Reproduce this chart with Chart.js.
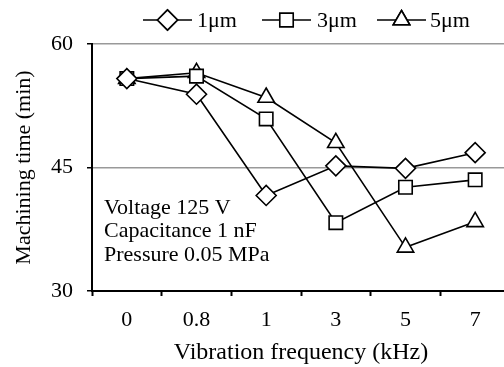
<!DOCTYPE html>
<html>
<head>
<meta charset="utf-8">
<script src="https://cdn.jsdelivr.net/npm/chart.js@4.4.1/dist/chart.umd.min.js"></script>
<style>
  html, body { margin: 0; padding: 0; background: #fff; overflow: hidden; }
  #wrap { width: 510px; height: 367px; }
</style>
</head>
<body>
<div id="wrap"><canvas id="chart-time"></canvas></div>
<script>
// data
const frequencies = ["0", "0.8", "1", "3", "5", "7"];
const seriesNames = ["1\u03bcm", "3\u03bcm", "5\u03bcm"];
const time1um = [55.8, 53.9, 41.6, 45.2, 44.9, 46.8];
const time3um = [55.8, 56.1, 50.9, 38.3, 42.6, 43.5];
const time5um = [55.8, 56.5, 53.5, 48.0, 35.3, 38.4];
const yTicks = [30, 45, 60];
const notes = ["Voltage 125 V", "Capacitance 1 nF", "Pressure 0.05 MPa"];

const serif = "'Liberation Serif', 'Times New Roman', serif";
const markers = ["rectRot", "rect", "triangle"];
const markerSize = [10, 9.5, 9.5];

function makeSet(label, data, i) {
    return {
        label: label,
        data: data,
        borderColor: "#000",
        borderWidth: 1.6,
        pointStyle: markers[i],
        pointRadius: markerSize[i],
        pointBorderWidth: 1.6,
        pointBackgroundColor: "#fff",
        pointBorderColor: "#000",
        tension: 0
    };
}

// legend with line + marker, and the text box in the plot
const extras = {
    id: "extras",
    afterDraw(chart) {
        const c = chart.ctx;
        c.save();
        c.font = "22px " + serif;
        c.fillStyle = "#000";
        c.textBaseline = "middle";
        const starts = [143, 262, 377];
        const textX = [197, 317, 430];
        chart.data.datasets.forEach(function (ds, i) {
            const x0 = starts[i], y = 20;
            c.strokeStyle = "#000";
            c.lineWidth = 1.6;
            c.beginPath();
            c.moveTo(x0, y);
            c.lineTo(x0 + 49, y);
            c.stroke();
            Chart.helpers.drawPoint(c, {
                pointStyle: ds.pointStyle,
                radius: ds.pointRadius,
                borderWidth: 1.6
            }, x0 + 24.5, y);
            c.fillStyle = "#fff";
            c.fill();
            c.stroke();
            c.fillStyle = "#000";
            c.textAlign = "left";
            c.fillText(ds.label, textX[i], y + 1);
        });
        const a = chart.chartArea;
        notes.forEach(function (t, k) {
            c.fillText(t, a.left + 12, 208 + k * 23.5);
        });
        c.restore();
    }
};

new Chart(document.getElementById("chart-time"), {
    type: "line",
    data: {
        labels: frequencies,
        datasets: [
            makeSet(seriesNames[0], time1um, 0),
            makeSet(seriesNames[1], time3um, 1),
            makeSet(seriesNames[2], time5um, 2)
        ]
    },
    options: {
        responsive: true,
        maintainAspectRatio: false,
        animation: false,
        layout: {
            autoPadding: false,
            padding: { top: 44, right: 0, left: 0, bottom: 0 }
        },
        plugins: {
            legend: { display: false },
            tooltip: { enabled: false }
        },
        scales: {
            x: {
                offset: true,
                afterFit: function (s) { s.height = 76; },
                border: { color: "#000", width: 2 },
                grid: {
                    offset: true,
                    drawOnChartArea: false,
                    drawTicks: true,
                    tickLength: 5,
                    tickWidth: 2,
                    tickColor: "#000"
                },
                ticks: {
                    color: "#000",
                    padding: 11,
                    font: { family: serif, size: 22 }
                },
                title: {
                    display: true,
                    text: "Vibration frequency (kHz)",
                    color: "#000",
                    padding: { top: 0, bottom: 0 },
                    font: { family: serif, size: 24 }
                }
            },
            y: {
                min: 30,
                max: 60,
                afterFit: function (s) { s.width = 92; },
                afterBuildTicks: function (s) {
                    s.ticks = yTicks.map(v => ({ value: v }));
                },
                border: { color: "#000", width: 2 },
                grid: {
                    color: function (ctx) {
                        return ctx.tick && ctx.tick.value === 30 ? "rgba(0,0,0,0)" : "#999";
                    },
                    lineWidth: 1.5,
                    drawTicks: true,
                    tickLength: 5,
                    tickWidth: 1.5,
                    tickColor: "#000"
                },
                ticks: {
                    color: "#000",
                    padding: 14,
                    font: { family: serif, size: 22 }
                },
                title: {
                    display: true,
                    text: "Machining time (min)",
                    color: "#000",
                    padding: { top: 11, bottom: 0 },
                    font: { family: serif, size: 22 }
                }
            }
        }
    },
    plugins: [extras]
});
</script>
</body>
</html>
